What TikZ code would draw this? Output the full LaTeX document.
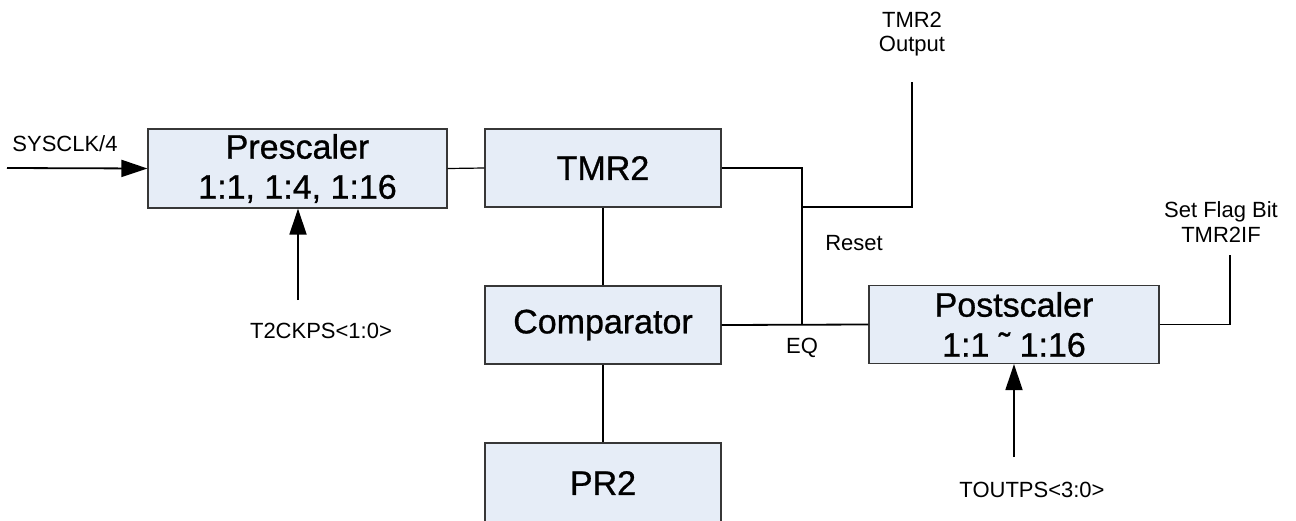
\documentclass[tikz,border=0pt]{standalone}
\usepackage{fontspec}
\setmainfont{Liberation Sans}
\newfontfamily\blkfont[FakeBold=0.8]{Liberation Sans}
\usetikzlibrary{arrows.meta}

\definecolor{boxfill}{RGB}{230,237,247}
\definecolor{boxline}{RGB}{55,55,55}

\tikzset{
    blk/.style={draw=boxline, line width=1.2pt, fill=boxfill, inner sep=0pt,
        align=center, font=\blkfont\fontsize{34}{40}\selectfont},
    lbl/.style={align=center, font=\fontsize{22}{24.5}\selectfont},
    wire/.style={line width=1.8pt},
    sig/.style={line width=1.8pt, -{Triangle[length=26pt,width=17pt]}}
}

\begin{document}
\begin{tikzpicture}[x=1pt, y=-1pt]
    \useasboundingbox (0, 0) rectangle (1296, 520);

    \node[blk, minimum width=299pt, minimum height=79pt] (pre) at (297.5, 168.5) {Prescaler\\1:1, 1:4, 1:16};
    \node[blk, minimum width=236pt, minimum height=78pt] (tmr) at (603, 168) {TMR2};
    \node[blk, minimum width=236pt, minimum height=78pt] (cmp) at (603, 325) {Comparator};
    \node[blk, minimum width=236pt, minimum height=80pt] (pr) at (603, 483) {PR2};
    \node[blk, minimum width=290pt, minimum height=78pt] (post) at (1014, 324.5) {Postscaler\\1:1 \char"02DC\ 1:16};

    \node[lbl] (clk) at (65, 144) {SYSCLK/4};
    \node[lbl] (ckps) at (321, 331) {T2CKPS<1:0>};
    \node[lbl] (outp) at (912, 34) {TMR2\\Output};
    \node[lbl] (rst) at (854, 243) {Reset};
    \node[lbl] (eq) at (802, 348) {EQ};
    \node[lbl] (flag) at (1221, 222) {Set Flag Bit\\TMR2IF};
    \node[lbl] (outps) at (1032, 490) {TOUTPS<3:0>};

    \coordinate (clkin) at (7, 168);
    \coordinate (ckpsin) at (298, 300);
    \coordinate (outpsin) at (1014, 457);
    \coordinate (join) at (802, 324);
    \coordinate (tap) at (802, 207);
    \coordinate (outend) at (912, 82);
    \coordinate (flagend) at (1230, 255);

    % block links
    \draw[line width=1.2pt] (pre.east) -- (tmr.west);
    \draw[line width=1.2pt] (tmr.south) -- (cmp.north);
    \draw[line width=1.2pt] (cmp.south) -- (pr.north);

    % match / reset path
    \draw[wire] (cmp.east) -- (post.west);
    \draw[wire] (tmr.east) -| (join);
    \draw[wire] (tap) -| (outend);
    \draw[wire] (post.east) -| (flagend);

    \draw[sig] (clkin) -- (pre.west);
    \draw[sig] (ckpsin) -- (ckpsin |- pre.south);
    \draw[sig] (outpsin) -- (post.south);
\end{tikzpicture}
\end{document}
